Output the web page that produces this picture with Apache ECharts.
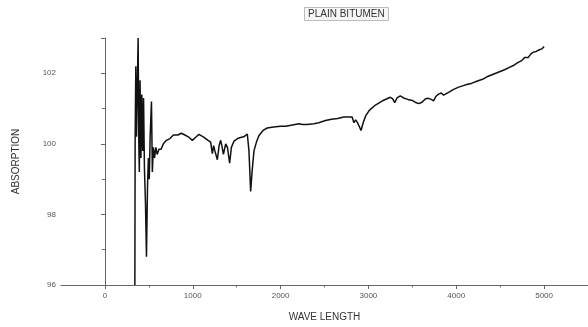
<!DOCTYPE html>
<html>
<head>
<meta charset="utf-8">
<script src="https://cdn.jsdelivr.net/npm/echarts@6/dist/echarts.min.js"></script>
<style>html,body{margin:0;padding:0;background:#fff;}#c{width:588px;height:327px;}</style>
</head>
<body>
<div id="c"></div>
<script>
var titleText = 'PLAIN BITUMEN';
var xName = 'WAVE LENGTH';
var yName = 'ABSORPTION';
var wave = [341,344,352,360,378,386,392,400,410,420,430,440,450,462,473,485,495,505,515,530,540,552,565,580,595,615,640,665,700,740,780,830,870,910,950,995,1040,1070,1120,1175,1204,1223,1238,1252,1280,1300,1318,1335,1349,1375,1395,1420,1440,1470,1510,1545,1580,1621,1640,1659,1675,1697,1725,1753,1800,1848,1920,2000,2057,2120,2208,2250,2300,2380,2435,2511,2580,2650,2720,2814,2835,2855,2875,2895,2916,2940,2970,3010,3080,3160,3250,3275,3299,3325,3363,3400,3450,3500,3540,3572,3610,3650,3685,3715,3742,3770,3799,3830,3856,3913,3960,4020,4080,4120,4180,4240,4300,4350,4400,4450,4500,4550,4600,4650,4700,4740,4780,4820,4850,4880,4910,4940,4960,4980,5000];
var absorb = [96.0,100.1,102.2,100.2,103.0,100.0,99.2,101.8,99.6,101.4,99.8,101.3,99.3,98.3,96.8,98.8,99.6,99.0,100.2,101.2,99.2,99.9,99.6,99.9,99.7,99.85,99.85,100.0,100.1,100.15,100.25,100.25,100.3,100.25,100.2,100.1,100.2,100.27,100.2,100.1,100.05,99.72,99.95,99.8,99.55,99.95,100.1,99.9,99.7,100.0,99.9,99.45,99.9,100.08,100.15,100.18,100.2,100.28,99.8,98.65,99.2,99.8,100.05,100.23,100.38,100.45,100.48,100.5,100.5,100.53,100.57,100.55,100.55,100.57,100.6,100.66,100.7,100.72,100.76,100.76,100.6,100.68,100.6,100.5,100.38,100.6,100.8,100.95,101.1,101.22,101.32,101.28,101.17,101.3,101.36,101.3,101.26,101.23,101.17,101.14,101.18,101.28,101.29,101.26,101.22,101.35,101.41,101.44,101.38,101.46,101.53,101.6,101.65,101.68,101.72,101.78,101.83,101.9,101.95,102.0,102.05,102.1,102.16,102.22,102.3,102.35,102.45,102.45,102.55,102.6,102.62,102.66,102.64,102.7,102.76];
var xMajorTicks = [0, 1000, 2000, 3000, 4000, 5000];
var xMinorTicks = [500, 1500, 2500, 3500, 4500, 5500];
var yTicks = {min: 96, max: 103, interval: 2};
var xRange = {min: -500, max: 5500};

var pts = wave.map(function (w, i) { return [w, absorb[i]]; });
var chart = echarts.init(document.getElementById('c'), null, {renderer: 'canvas'});
var axisColor = '#666';
var font = 'Liberation Sans, Arial, sans-serif';
chart.setOption({
  animation: false,
  backgroundColor: '#fff',
  textStyle: {fontFamily: font},
  title: {
    text: titleText, left: 304, top: 7,
    padding: [2, 4],
    borderColor: '#bbb', borderWidth: 1, backgroundColor: '#f6f6f6',
    textStyle: {fontSize: 10, fontWeight: 'normal', color: '#333', fontFamily: font}
  },
  grid: {left: 61, top: 38, bottom: 37, width: 529},
  xAxis: [{
    type: 'value', min: xRange.min, max: xRange.max, position: 'bottom',
    name: xName, nameLocation: 'middle', nameGap: 27,
    nameTextStyle: {fontSize: 10, color: '#333'},
    axisLine: {onZero: false, lineStyle: {color: axisColor, width: 1}},
    axisTick: {show: true, length: 4, customValues: xMajorTicks, lineStyle: {color: axisColor}},
    axisLabel: {fontSize: 8, color: '#555', margin: 7, customValues: xMajorTicks,
      formatter: function (v) { return String(v); }},
    splitLine: {show: false}
  }, {
    type: 'value', min: xRange.min, max: xRange.max, position: 'bottom',
    axisLine: {show: false, onZero: false},
    axisTick: {show: true, length: 2.5, customValues: xMinorTicks, lineStyle: {color: axisColor}},
    axisLabel: {show: false},
    splitLine: {show: false}
  }],
  yAxis: {
    type: 'value', min: yTicks.min, max: yTicks.max, interval: yTicks.interval,
    name: yName, nameLocation: 'middle', nameGap: 40, nameRotate: 90,
    nameTextStyle: {fontSize: 10, color: '#333'},
    axisLine: {show: true, lineStyle: {color: axisColor, width: 1}},
    axisTick: {show: true, length: 4, lineStyle: {color: axisColor}},
    minorTick: {show: true, splitNumber: 2, length: 3, lineStyle: {color: axisColor}},
    axisLabel: {fontSize: 8, color: '#555', margin: 5,
      formatter: function (v) { return v > 102 ? '' : String(v); }},
    splitLine: {show: false}
  },
  series: [{
    type: 'line', data: pts, showSymbol: false, symbol: 'none', xAxisIndex: 0,
    lineStyle: {color: '#111', width: 1.5}, clip: true
  }]
});
</script>
</body>
</html>
